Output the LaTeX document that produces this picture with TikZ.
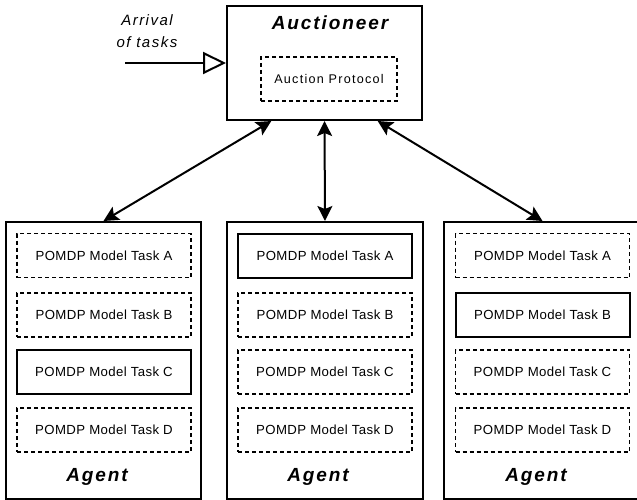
\documentclass[tikz,border=0pt]{standalone}
\usepackage{fontspec}
\setmainfont{Liberation Sans}
\newfontfamily\spacedfont[LetterSpace=10]{Liberation Sans}
\newfontfamily\smallspaced[LetterSpace=3]{Liberation Sans}
\usetikzlibrary{arrows.meta,calc}
\tikzset{
  outerbox/.style={draw, line width=2pt, inner sep=0pt},
  solidtask/.style={draw, line width=2pt, minimum width=174pt, minimum height=44pt, inner sep=0pt, font=\smallspaced\fontsize{13.2}{14}\selectfont},
  dashtask/.style={solidtask, line width=1.8pt, dash pattern=on 4pt off 3pt},
  titletext/.style={font=\spacedfont\bfseries\itshape\fontsize{19}{22}\selectfont, inner sep=0pt},
  biarrow/.style={line width=2pt, {Stealth[length=15pt,width=15pt,inset=3pt]}-{Stealth[length=15pt,width=15pt,inset=3pt]}},
}
\begin{document}
\begin{tikzpicture}[x=1pt,y=-1pt]
\clip (0,0) rectangle (637,500);
\fill[white] (0,0) rectangle (637,500);
% Auctioneer
\node[outerbox, minimum width=195pt, minimum height=114pt] (auct) at (324.5,63) {};
\node[titletext] (auctt) at (330,23) {Auctioneer};
\node[dashtask, minimum width=136pt, minimum height=44pt, font=\spacedfont\fontsize{12.6}{14}\selectfont] (proto) at (329,79) {Auction Protocol};
% Arrival
\node[font=\spacedfont\itshape\fontsize{15}{22}\selectfont, align=center, inner sep=0pt] (arr) at (147,31) {Arrival\\of tasks};
\coordinate (arrstart) at (125,63);
\draw[line width=2pt, -{Triangle[open,length=23pt,width=22pt,line width=2pt]}] (arrstart) -- (auct.west |- arrstart);
% Agents
\node[outerbox, minimum width=195pt, minimum height=277pt] (ag1) at (103.5,360.5) {};
\node[outerbox, minimum width=196pt, minimum height=277pt] (ag2) at (325,360.5) {};
\node[outerbox, minimum width=197pt, minimum height=277pt] (ag3) at (542.5,360.5) {};
% agent 1
\node[dashtask] (a1A) at (104,255.5) {POMDP Model Task A};
\node[dashtask] (a1B) at (104,315) {POMDP Model Task B};
\node[solidtask] (a1C) at (104,372) {POMDP Model Task C};
\node[dashtask] (a1D) at (104,430) {POMDP Model Task D};
\node[titletext] (a1t) at (97,477) {Agent};
% agent 2
\node[solidtask] (a2A) at (325,255.5) {POMDP Model Task A};
\node[dashtask] (a2B) at (325,315) {POMDP Model Task B};
\node[dashtask] (a2C) at (325,372) {POMDP Model Task C};
\node[dashtask] (a2D) at (325,430) {POMDP Model Task D};
\node[titletext] (a2t) at (318,477) {Agent};
% agent 3
\node[dashtask] (a3A) at (542.5,255.5) {POMDP Model Task A};
\node[solidtask] (a3B) at (542.5,315) {POMDP Model Task B};
\node[dashtask] (a3C) at (542.5,372) {POMDP Model Task C};
\node[dashtask] (a3D) at (542.5,430) {POMDP Model Task D};
\node[titletext] (a3t) at (536,477) {Agent};
% connectors
\draw[biarrow] ($(auct.south west)!0.23!(auct.south east)$) -- (ag1.north);
\draw[biarrow] (auct.south) -- (ag2.north);
\draw[biarrow] ($(auct.south west)!0.77!(auct.south east)$) -- (ag3.north);
\end{tikzpicture}
\end{document}
